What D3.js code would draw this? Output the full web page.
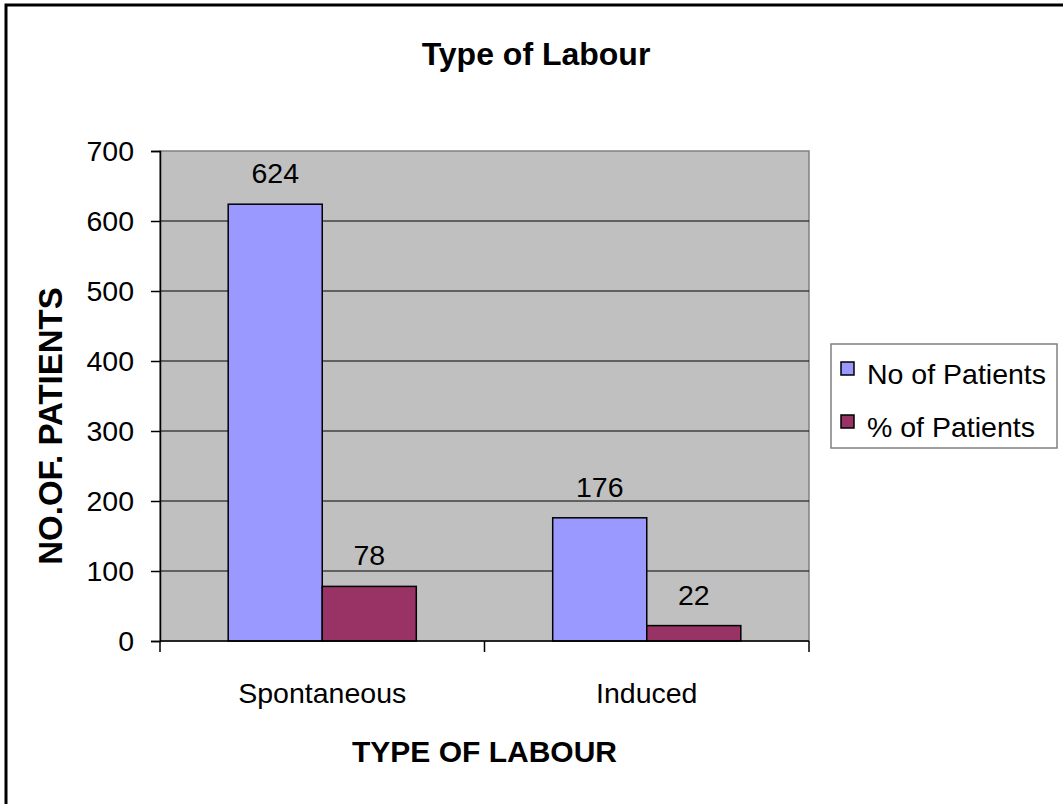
<!DOCTYPE html>
<html>
<head>
<meta charset="utf-8">
<script src="https://cdn.jsdelivr.net/npm/d3@7"></script>
<style>
  html, body { margin: 0; padding: 0; background: #fff; }
  svg { display: block; font-family: Arial, "Liberation Sans", sans-serif; }
</style>
</head>
<body>
<svg id="chart" width="1063" height="804"></svg>
<script>
// Chart data
const categories = ["Spontaneous", "Induced"];
const seriesNames = ["No of Patients", "% of Patients"];
const noOfPatients = [624, 176];
const pctOfPatients = [78, 22];
const yTicks = [0, 100, 200, 300, 400, 500, 600, 700];
const seriesColors = ["#9999FF", "#993366"];

const series = [noOfPatients, pctOfPatients];

const svg = d3.select("#chart");
const W = 1063, H = 804;
const FONT = "Arial, 'Liberation Sans', sans-serif";
const labelSize = 28.5;

// Outer chart frame (extends past the right/bottom edge)
svg.append("rect")
  .attr("x", 6).attr("y", 5)
  .attr("width", W + 20).attr("height", H + 20)
  .attr("fill", "#fff").attr("stroke", "#000").attr("stroke-width", 3);

const plot = { left: 160, top: 151, right: 809, bottom: 641 };

const x0 = d3.scaleBand()
  .domain(categories)
  .range([plot.left, plot.right])
  .paddingInner(0).paddingOuter(0);

const y = d3.scaleLinear().domain([0, 700]).range([plot.bottom, plot.top]);

// Plot area background
svg.append("rect")
  .attr("x", plot.left).attr("y", plot.top)
  .attr("width", plot.right - plot.left).attr("height", plot.bottom - plot.top)
  .attr("fill", "#C0C0C0").attr("stroke", "#808080").attr("stroke-width", 1.5);

// Gridlines
svg.append("g")
  .selectAll("line")
  .data(yTicks.filter(d => d > 0 && d < 700))
  .join("line")
  .attr("x1", plot.left).attr("x2", plot.right)
  .attr("y1", d => y(d)).attr("y2", d => y(d))
  .attr("stroke", "#000").attr("stroke-width", 1);

// Bars: each group is 2 bars, gap between groups ~ 145% of bar width
const barW = x0.bandwidth() / (2 + 1.45);
const groups = svg.append("g");
categories.forEach((cat, ci) => {
  const cx = x0(cat) + x0.bandwidth() / 2;
  series.forEach((vals, si) => {
    const bx = cx - barW + si * barW;
    groups.append("rect")
      .attr("x", bx).attr("y", y(vals[ci]))
      .attr("width", barW).attr("height", y(0) - y(vals[ci]))
      .attr("fill", seriesColors[si])
      .attr("stroke", "#000").attr("stroke-width", 1.5);
    groups.append("text")
      .attr("x", bx + barW / 2).attr("y", y(vals[ci]) - 21)
      .attr("text-anchor", "middle")
      .attr("font-size", labelSize)
      .text(vals[ci]);
  });
});

// Y axis
const yAxis = d3.axisLeft(y).tickValues(yTicks).tickSize(9).tickPadding(17)
  .tickFormat(d3.format("d"));
const gy = svg.append("g").attr("transform", `translate(${plot.left},0)`).call(yAxis);
gy.select(".domain").attr("stroke", "#000").attr("stroke-width", 1.5);
gy.selectAll(".tick line").attr("stroke", "#000").attr("stroke-width", 1.5);
gy.selectAll(".tick text").attr("font-size", labelSize).attr("fill", "#000")
  .attr("font-family", FONT);

// X axis: ticks sit on category boundaries
const xBoundary = d3.scaleLinear().domain([0, categories.length]).range([plot.left, plot.right]);
const gx = svg.append("g");
gx.append("line")
  .attr("x1", plot.left).attr("x2", plot.right)
  .attr("y1", plot.bottom).attr("y2", plot.bottom)
  .attr("stroke", "#000").attr("stroke-width", 1.5);
gx.selectAll("line.tk")
  .data(d3.range(categories.length + 1))
  .join("line").attr("class", "tk")
  .attr("x1", d => xBoundary(d)).attr("x2", d => xBoundary(d))
  .attr("y1", plot.bottom).attr("y2", plot.bottom + 11)
  .attr("stroke", "#000").attr("stroke-width", 1.5);
gx.selectAll("text")
  .data(categories)
  .join("text")
  .attr("x", d => x0(d) + x0.bandwidth() / 2)
  .attr("y", 703)
  .attr("text-anchor", "middle")
  .attr("font-size", labelSize)
  .text(d => d);

// Titles
svg.append("text")
  .attr("x", 536).attr("y", 65)
  .attr("text-anchor", "middle")
  .attr("font-size", 32).attr("font-weight", "bold")
  .text("Type of Labour");

svg.append("text")
  .attr("x", (plot.left + plot.right) / 2).attr("y", 762)
  .attr("text-anchor", "middle")
  .attr("font-size", 30).attr("font-weight", "bold")
  .text("TYPE OF LABOUR");

svg.append("text")
  .attr("transform", "translate(62,426) rotate(-90)")
  .attr("text-anchor", "middle")
  .attr("font-size", 33).attr("font-weight", "bold")
  .text("NO.OF. PATIENTS");

// Legend
const legend = svg.append("g");
legend.append("rect")
  .attr("x", 831).attr("y", 344).attr("width", 226).attr("height", 104)
  .attr("fill", "#fff").attr("stroke", "#808080").attr("stroke-width", 1.5);
seriesNames.forEach((name, i) => {
  const yy = 362 + i * 53;
  legend.append("rect")
    .attr("x", 841).attr("y", yy).attr("width", 13).attr("height", 13)
    .attr("fill", seriesColors[i]).attr("stroke", "#000").attr("stroke-width", 1.5);
  legend.append("text")
    .attr("x", 867).attr("y", yy + 22)
    .attr("font-size", labelSize)
    .text(name);
});
</script>
</body>
</html>
